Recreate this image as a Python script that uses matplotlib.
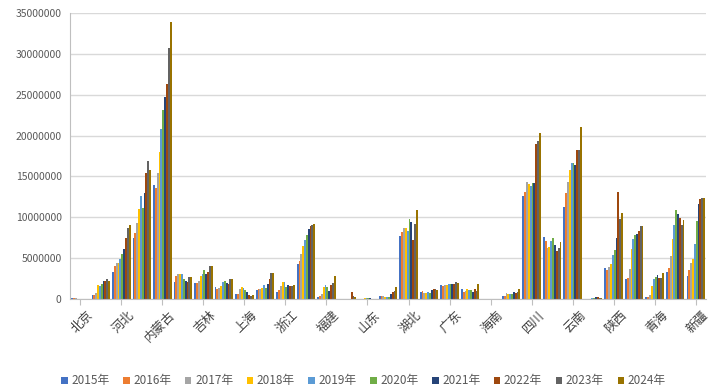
import numpy as np
import matplotlib
matplotlib.use("Agg")
import matplotlib.pyplot as plt
import matplotlib.transforms as mtransforms

plt.rcParams['font.family'] = ['Noto Sans CJK SC', 'DejaVu Sans']

provinces = ['北京', '天津', '河北', '山西', '内蒙古', '辽宁', '吉林', '黑龙江', '上海', '江苏',
             '浙江', '安徽', '福建', '江西', '山东', '河南', '湖北', '湖南', '广东', '广西',
             '海南', '重庆', '四川', '贵州', '云南', '西藏', '陕西', '甘肃', '青海', '宁夏', '新疆']
years = ['2015年', '2016年', '2017年', '2018年', '2019年', '2020年', '2021年', '2022年', '2023年', '2024年']

# values in millions, one list per year, provinces in the order above
y2015 = [0.10, 0.49, 3.34, 7.43, 13.97, 2.12, 2.00, 1.43, 0.61, 1.10, 0.82, 4.25, 0.29, 0.03, 0.05, 0.41,
         7.72, 0.82, 1.67, 1.18, 0.02, 0.37, 12.65, 7.63, 11.31, 0.05, 3.76, 2.41, 0.20, 3.34, 2.85]
y2016 = [0.10, 0.49, 4.08, 8.05, 13.56, 2.85, 2.00, 1.18, 0.61, 1.18, 1.06, 4.65, 0.41, 0.03, 0.05, 0.41,
         8.17, 0.94, 1.59, 0.86, 0.02, 0.41, 13.14, 7.10, 12.95, 0.05, 3.55, 2.53, 0.29, 3.84, 3.55]
y2017 = [0.08, 0.70, 4.37, 9.35, 15.47, 3.06, 2.20, 1.31, 1.18, 1.27, 1.59, 5.51, 0.61, 0.03, 0.05, 0.37,
         8.66, 0.77, 1.67, 0.98, 0.02, 0.70, 14.29, 6.28, 14.33, 0.05, 3.96, 3.64, 0.49, 5.27, 4.37]
y2018 = [0.05, 1.71, 4.37, 11.03, 18.05, 3.06, 2.82, 1.59, 1.47, 1.35, 2.04, 6.45, 1.51, 0.03, 0.10, 0.25,
         8.66, 0.73, 1.71, 1.18, 0.02, 0.61, 14.05, 6.37, 15.80, 0.05, 4.29, 6.09, 1.59, 7.31, 4.90]
y2019 = [0.05, 1.59, 4.94, 12.65, 20.83, 3.06, 3.06, 2.12, 1.31, 1.71, 2.04, 7.27, 1.71, 0.03, 0.10, 0.20,
         8.37, 0.86, 1.80, 1.10, 0.02, 0.61, 13.84, 7.10, 16.66, 0.10, 5.39, 7.35, 2.41, 9.10, 6.70]
y2020 = [0.03, 1.84, 5.51, 11.15, 23.15, 2.45, 3.55, 2.20, 1.10, 1.39, 1.43, 7.80, 1.51, 0.03, 0.08, 0.20,
         9.76, 0.73, 1.80, 1.10, 0.02, 0.61, 14.25, 7.43, 16.66, 0.10, 6.00, 7.84, 2.73, 10.90, 9.59]
y2021 = [0.03, 2.20, 6.16, 12.95, 24.71, 2.20, 3.06, 1.92, 0.86, 1.84, 1.67, 8.61, 1.02, 0.03, 0.08, 0.65,
         9.43, 1.06, 1.80, 0.86, 0.02, 0.86, 14.17, 6.62, 16.41, 0.20, 7.43, 7.93, 2.98, 10.41, 11.60]
y2022 = [0.03, 2.20, 7.51, 15.40, 26.34, 2.12, 3.27, 1.84, 0.45, 2.45, 1.63, 8.90, 1.71, 0.82, 0.05, 0.86,
         7.23, 1.22, 1.80, 1.27, 0.02, 0.70, 18.99, 5.88, 18.25, 0.20, 13.10, 8.33, 2.53, 9.88, 12.21]
y2023 = [0.03, 2.41, 8.73, 16.87, 30.66, 2.70, 4.04, 2.41, 0.37, 3.15, 1.63, 9.06, 1.92, 0.37, 0.05, 0.94,
         9.15, 1.22, 2.04, 0.94, 0.02, 0.90, 19.36, 6.28, 18.25, 0.15, 9.80, 8.94, 2.53, 9.06, 12.33]
y2024 = [0.03, 2.20, 9.03, 15.80, 33.85, 2.70, 4.04, 2.41, 0.45, 3.15, 1.76, 9.15, 2.82, 0.25, 0.05, 1.47,
         10.87, 1.14, 1.92, 1.80, 0.02, 1.22, 20.34, 6.98, 21.03, 0.15, 10.50, 8.94, 3.22, 9.68, 12.33]

series = [y2015, y2016, y2017, y2018, y2019, y2020, y2021, y2022, y2023, y2024]
colors = ['#4472C4', '#ED7D31', '#A5A5A5', '#FFC000', '#5B9BD5',
          '#70AD47', '#264478', '#9E480E', '#636363', '#997300']

fig = plt.figure(figsize=(7.17, 3.91), dpi=100)
ax = fig.add_axes([70/717, 92/391, 636/717, 286/391])

x = np.arange(len(provinces))
n = len(series)
w = 0.9 / n
for k in range(n):
    vals = np.array(series[k]) * 1e6
    ax.bar(x - 0.45 + w*(k+0.5), vals, width=w, color=colors[k], label=years[k], linewidth=0)

ax.set_xlim(-0.5, len(provinces)-0.5)
ax.set_ylim(0, 35000000)
ax.set_yticks(np.arange(0, 35000001, 5000000))
ax.set_yticklabels([str(v) for v in range(0, 35000001, 5000000)], fontsize=7.5, color='#595959')
ax.tick_params(axis='y', length=0, pad=6)
ax.yaxis.grid(True, color='#D9D9D9', linewidth=1)
ax.set_axisbelow(True)

ax.set_xticks(x[::2])
ax.set_xticklabels(provinces[::2], rotation=45, ha='right', va='top',
                   rotation_mode='anchor', fontsize=9, color='#404040')
ax.tick_params(axis='x', length=4, color='#BFBFBF', pad=3)
# shift the rotated labels a little right, like the original
shift = mtransforms.ScaledTranslation(6/100, 0, fig.dpi_scale_trans)
for lab in ax.get_xticklabels():
    lab.set_transform(lab.get_transform() + shift)

for s in ['top', 'right']:
    ax.spines[s].set_visible(False)
ax.spines['left'].set_color('#BFBFBF')
ax.spines['bottom'].set_color('#BFBFBF')

fig.legend(loc='center', bbox_to_anchor=(0.507, 0.026), ncol=10, frameon=False,
           fontsize=8.5, handlelength=0.55, handleheight=0.55, handletextpad=0.3,
           columnspacing=1.15, labelcolor='#595959')

fig.savefig('out.png', dpi=100)
